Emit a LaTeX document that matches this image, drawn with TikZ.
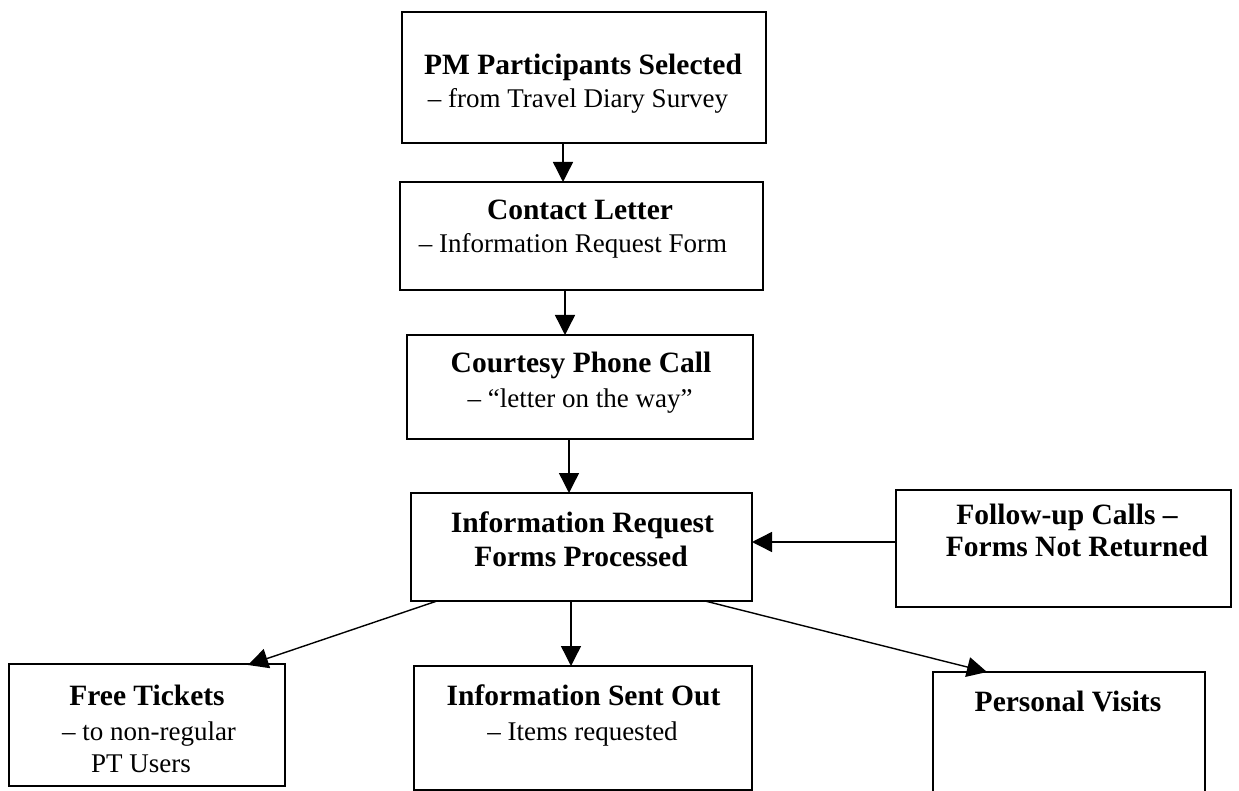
\documentclass[tikz,border=0pt]{standalone}
\usepackage{fontspec}
\setmainfont{Liberation Serif}
\usetikzlibrary{arrows.meta}
\begin{document}
\begin{tikzpicture}[x=1pt,y=-1pt,
  box/.style={draw, line width=1.6pt, rectangle, inner sep=0pt, outer sep=0pt},
  bt/.style={anchor=base, inner sep=0pt, font=\fontsize{29.5}{34}\selectfont\bfseries},
  rt/.style={anchor=base, inner sep=0pt, font=\fontsize{27}{32}\selectfont},
  arr/.style={line width=1.4pt, -{Triangle[length=20pt,width=20pt]}}]
\clip (0,0) rectangle (1239,791);
\fill[white] (0,0) rectangle (1239,791);
% boxes
\node[box, minimum width=364pt, minimum height=131pt] (b1) at (584,77.5) {};
\node[box, minimum width=363pt, minimum height=108pt] (b2) at (581.5,236) {};
\node[box, minimum width=346pt, minimum height=104pt] (b3) at (580,387) {};
\node[box, minimum width=341pt, minimum height=108pt] (b4) at (581.5,547) {};
\node[box, minimum width=335pt, minimum height=117pt] (fu) at (1063.5,548.5) {};
\node[box, minimum width=276pt, minimum height=122pt] (ft) at (147,725) {};
\node[box, minimum width=338pt, minimum height=124pt] (is) at (583,728) {};
\node[box, minimum width=272pt, minimum height=140pt] (pv) at (1069,742) {};
% texts
\node[bt] (t1a) at (583,75) {PM Participants Selected};
\node[rt] (t1b) at (578,108) {-- from Travel Diary Survey};
\node[bt] (t2a) at (580,220) {Contact Letter};
\node[rt] (t2b) at (573,253) {-- Information Request Form};
\node[bt] (t3a) at (581,372) {Courtesy Phone Call};
\node[rt] (t3b) at (580,407) {-- “letter on the way”};
\node[bt] (t4a) at (582.5,532) {Information Request};
\node[bt] (t4b) at (581,566) {Forms Processed};
\node[bt] (tfa) at (1067,524) {Follow-up Calls --};
\node[bt] (tfb) at (1077,556) {Forms Not Returned};
\node[bt] (tta) at (147,705) {Free Tickets};
\node[rt] (ttb) at (149,740) {-- to non-regular};
\node[rt] (ttc) at (141,772) {PT Users};
\node[bt] (tsa) at (583.5,705) {Information Sent Out};
\node[rt] (tsb) at (582.5,740) {-- Items requested};
\node[bt] (tpa) at (1068,711) {Personal Visits};
% connectors
\draw[arr] ([xshift=-21pt]b1.south) -- ([xshift=-21pt]b1.south |- b2.north);
\draw[arr] ([xshift=-16.5pt]b2.south) -- ([xshift=-16.5pt]b2.south |- b3.north);
\draw[arr] ([xshift=-11pt]b3.south) -- ([xshift=-11pt]b3.south |- b4.north);
\draw[arr] ([xshift=-10.5pt]b4.south) -- ([xshift=-10.5pt]b4.south |- is.north);
\draw[arr] ([yshift=6.5pt]fu.west) -- ([yshift=6.5pt]fu.west -| b4.east);
\draw[arr] ([xshift=26pt]b4.south west) -- ([xshift=239pt,yshift=-1pt]ft.north west);
\draw[arr] ([xshift=-47pt]b4.south east) -- ([xshift=54pt]pv.north west);
\end{tikzpicture}
\end{document}
